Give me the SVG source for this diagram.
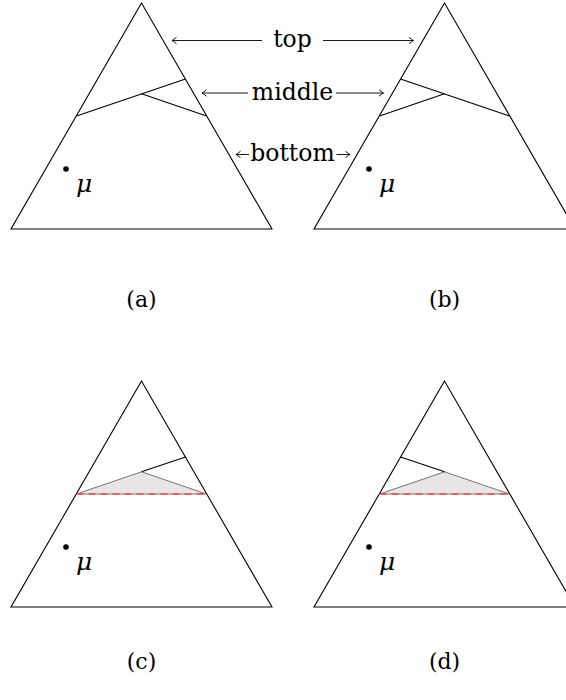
<svg xmlns="http://www.w3.org/2000/svg" width="566" height="700" viewBox="0 0 566 700">
<defs>
<style>
.tri{fill:none;stroke:#000;stroke-width:1.1;stroke-linejoin:miter}
.div{fill:none;stroke:#000;stroke-width:1.1}
.shade{fill:#e6e6e6;stroke:#555;stroke-width:0.8}
.cut{fill:none;stroke:#ff4040;stroke-width:1.4;stroke-dasharray:7 5}
.arr{fill:none;stroke:#000;stroke-width:0.9;marker-end:url(#head)}
.lbl{font-family:"DejaVu Serif","Liberation Serif",serif;font-size:23.5px;fill:#000;text-anchor:middle}
.cap{font-family:"DejaVu Serif","Liberation Serif",serif;font-size:22px;fill:#000;text-anchor:middle}
.mu{font-family:"DejaVu Serif","Liberation Serif",serif;font-style:italic;font-size:25px;fill:#000}
</style>
<marker id="head" markerUnits="userSpaceOnUse" markerWidth="10" markerHeight="10" viewBox="-6 -5 8 10" refX="0" refY="0" orient="auto">
<path d="M-4.5,-3.2 Q-1.2,-0.6 0,0 Q-1.2,0.6 -4.5,3.2" fill="none" stroke="#000" stroke-width="0.9"/>
</marker>
</defs>
<rect width="566" height="700" fill="#fff"/>

<g id="panel-a">
<polygon class="tri" points="141.5,3 11,229 272,229"/>
<polyline class="div" points="76.5,116 185.5,79"/>
<polyline class="div" points="141.5,93.8 206.5,116"/>
<circle cx="66" cy="169" r="2.8" fill="#000"/>
<text class="mu" x="76" y="192">μ</text>
</g>

<g id="panel-b">
<polygon class="tri" points="444.5,3 314,229 575,229"/>
<polyline class="div" points="400.5,79 509.5,116"/>
<polyline class="div" points="444.5,93.8 379.5,116"/>
<circle cx="369" cy="169" r="2.8" fill="#000"/>
<text class="mu" x="379" y="192">μ</text>
</g>

<g id="panel-c">
<polygon class="tri" points="141.5,381 11,607 272,607"/>
<polygon class="shade" points="76.5,494 141.5,471.8 206.5,494"/>
<line class="div" x1="141.5" y1="471.8" x2="185.5" y2="457"/>
<line class="cut" x1="76.5" y1="494" x2="206.5" y2="494"/>
<circle cx="66" cy="547" r="2.8" fill="#000"/>
<text class="mu" x="76" y="570">μ</text>
</g>

<g id="panel-d">
<polygon class="tri" points="444.5,381 314,607 575,607"/>
<polygon class="shade" points="379.5,494 444.5,471.8 509.5,494"/>
<line class="div" x1="444.5" y1="471.8" x2="400.5" y2="457"/>
<line class="cut" x1="379.5" y1="494" x2="509.5" y2="494"/>
<circle cx="369" cy="547" r="2.8" fill="#000"/>
<text class="mu" x="379" y="570">μ</text>
</g>

<g id="region-labels">
<text class="lbl" x="292.5" y="46.5">top</text>
<text class="lbl" x="292.5" y="99.5">middle</text>
<text class="lbl" x="292.5" y="161">bottom</text>
</g>

<g id="connectors">
<line class="arr" x1="262" y1="40.5" x2="172" y2="40.5"/>
<line class="arr" x1="323" y1="40.5" x2="413.5" y2="40.5"/>
<line class="arr" x1="248" y1="93" x2="202" y2="93"/>
<line class="arr" x1="336" y1="93" x2="383.5" y2="93"/>
<line class="arr" x1="249" y1="154.5" x2="236" y2="154.5"/>
<line class="arr" x1="336.5" y1="154.5" x2="350" y2="154.5"/>
</g>

<g id="captions">
<text class="cap" x="141.5" y="307">(a)</text>
<text class="cap" x="444.5" y="307">(b)</text>
<text class="cap" x="141.5" y="669">(c)</text>
<text class="cap" x="444.5" y="669">(d)</text>
</g>
</svg>
